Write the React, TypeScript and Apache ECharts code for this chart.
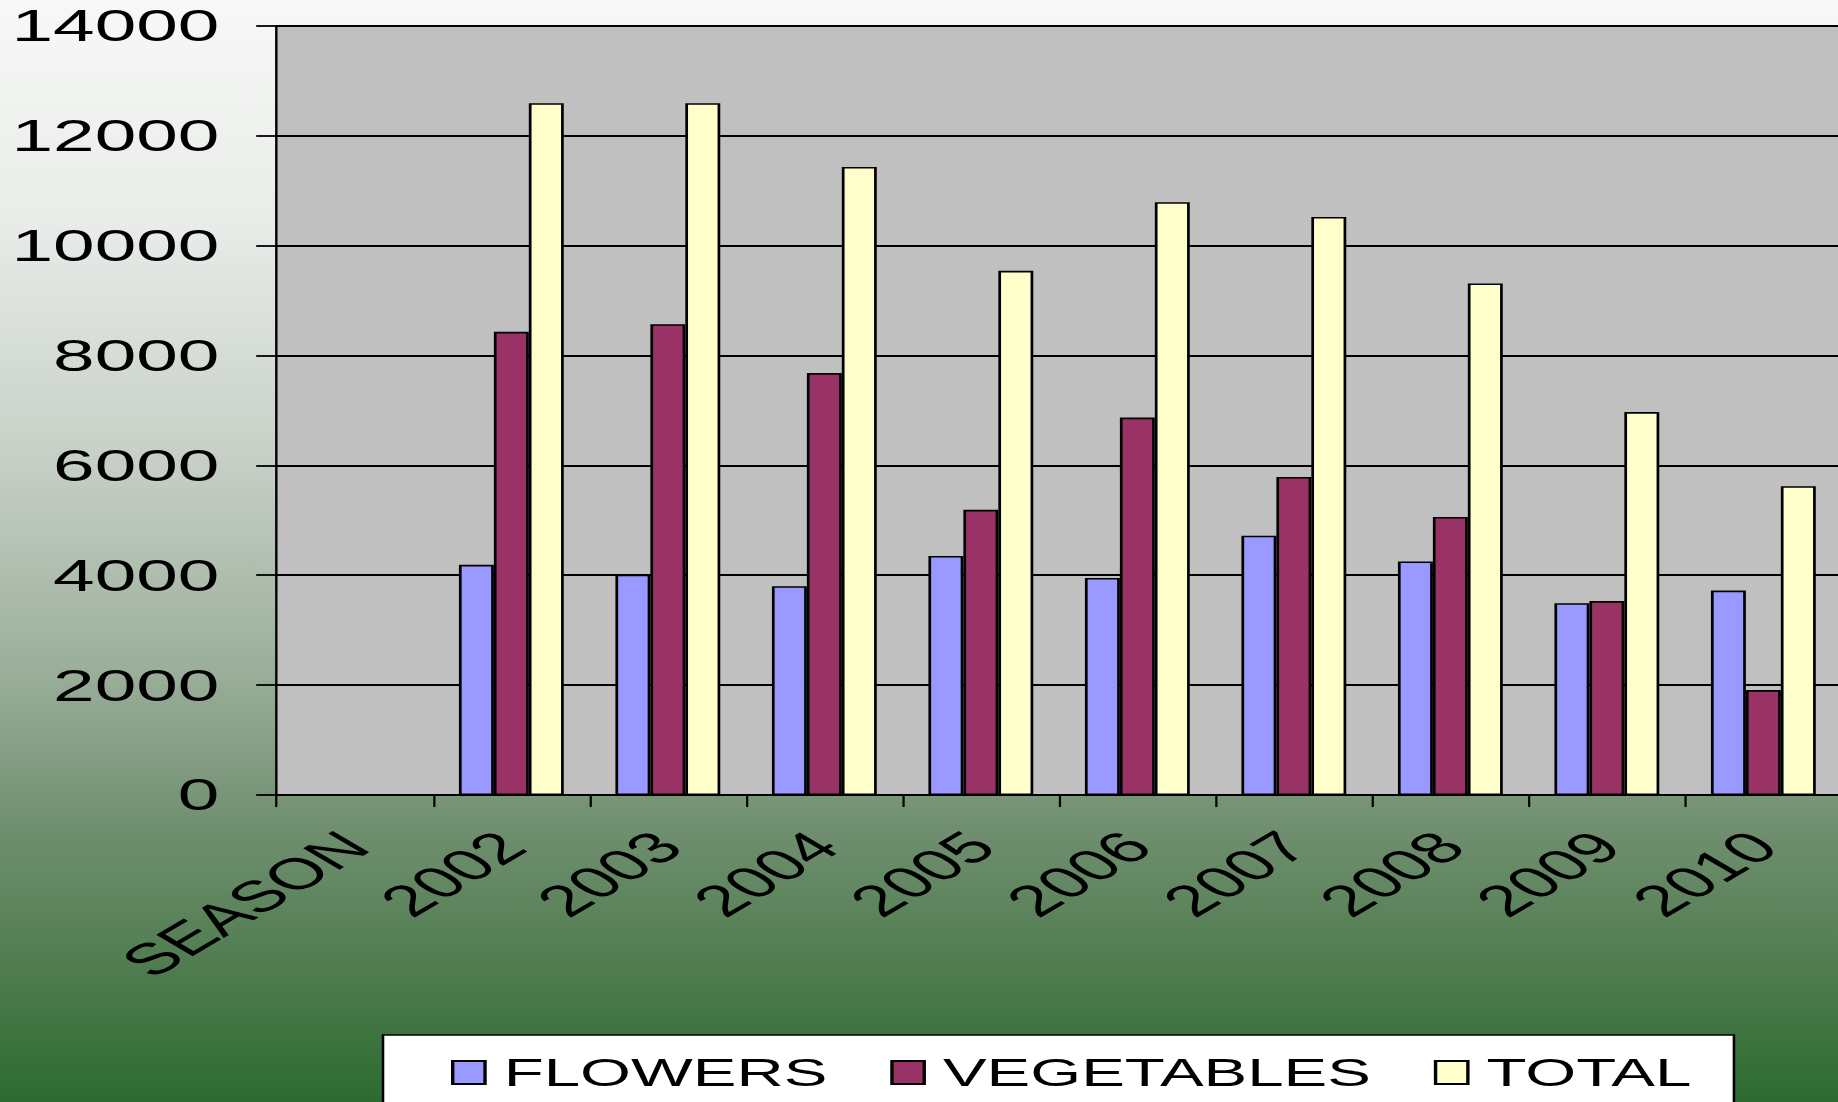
import React, { useEffect, useRef } from "react";
import * as echarts from "echarts";

const categories = ["SEASON", "2002", "2003", "2004", "2005", "2006", "2007", "2008", "2009", "2010"];
const flowers = [null, 4190, 4010, 3800, 4350, 3950, 4720, 4250, 3490, 3720];
const vegetables = [null, 8430, 8570, 7680, 5190, 6870, 5790, 5060, 3530, 1910];
const total = [null, 12590, 12590, 11430, 9540, 10790, 10520, 9310, 6970, 5620];
const seriesNames = ["FLOWERS", "VEGETABLES", "TOTAL"];
const seriesColors = ["#9999FF", "#993366", "#FFFFCC"];
const yMin = 0;
const yMax = 14000;
const yInterval = 2000;

const STRETCH = 1.7;
const FONT = "'Liberation Sans', Arial, sans-serif";

export default function App() {
  const ref = useRef<HTMLDivElement>(null);

  useEffect(() => {
    if (!ref.current) return;
    const chart = echarts.init(ref.current, undefined, { renderer: "svg" });
    const dataSets = [flowers, vegetables, total];
    chart.setOption({
      animation: false,
      backgroundColor: {
        type: "linear",
        x: 0,
        y: 0,
        x2: 0,
        y2: 1,
        colorStops: [
          { offset: 0, color: "#f7f8f7" },
          { offset: 0.2, color: "#e9ece9" },
          { offset: 0.42, color: "#c6cfc6" },
          { offset: 0.6, color: "#9db09d" },
          { offset: 0.75, color: "#708f70" },
          { offset: 0.88, color: "#4f7c4f" },
          { offset: 1, color: "#2c6b30" },
        ],
      },
      grid: {
        left: 162.7,
        top: 25.8,
        width: 920.6,
        height: 769.2,
        show: true,
        backgroundColor: "#C0C0C0",
        borderColor: "#7a7a7a",
        borderWidth: 1.3,
        containLabel: false,
        outerBoundsMode: "none",
      },
      legend: {
        data: seriesNames,
        left: 225.3,
        top: 1035,
        orient: "horizontal",
        backgroundColor: "#ffffff",
        borderColor: "#000000",
        borderWidth: 1.5,
        padding: [18, 25, 60, 40],
        itemGap: 37,
        itemWidth: 19,
        itemHeight: 23,
        icon: "rect",
        textStyle: {
          fontFamily: FONT,
          fontSize: 38.5,
          color: "#000",
          padding: [0, 0, 0, 6],
        },
      },
      xAxis: {
        type: "category",
        data: categories,
        axisLine: { show: true, lineStyle: { color: "#000", width: 1.8 } },
        axisTick: { show: true, length: 12, lineStyle: { color: "#000", width: 1.3 } },
        axisLabel: {
          rotate: 45,
          margin: 44,
          fontFamily: FONT,
          fontSize: 44,
          color: "#000",
          interval: 0,
        },
        splitLine: { show: false },
      },
      yAxis: {
        type: "value",
        min: yMin,
        max: yMax,
        interval: yInterval,
        axisLine: { show: true, lineStyle: { color: "#000", width: 1.3 } },
        axisTick: { show: true, length: 12, lineStyle: { color: "#000", width: 1.8 } },
        axisLabel: {
          margin: 33.6,
          fontFamily: FONT,
          fontSize: 44,
          color: "#000",
          formatter: (v: number) => String(v),
        },
        splitLine: { show: true, lineStyle: { color: "#000", width: 1.9 } },
      },
      series: seriesNames.map((name, i) => ({
        name,
        type: "bar",
        data: dataSets[i],
        barGap: "0%",
        barCategoryGap: "33%",
        itemStyle: {
          color: seriesColors[i],
          borderColor: "#000",
          borderWidth: 1.6,
        },
      })),
    });
    return () => chart.dispose();
  }, []);

  return (
    <div
      style={{
        position: "fixed",
        left: 0,
        top: 0,
        width: 1838,
        height: 1102,
        overflow: "hidden",
        background: "#2c6b30",
      }}
    >
      <div
        ref={ref}
        style={{
          width: 1084,
          height: 1102,
          transform: `scaleX(${STRETCH})`,
          transformOrigin: "0 0",
        }}
      />
    </div>
  );
}
